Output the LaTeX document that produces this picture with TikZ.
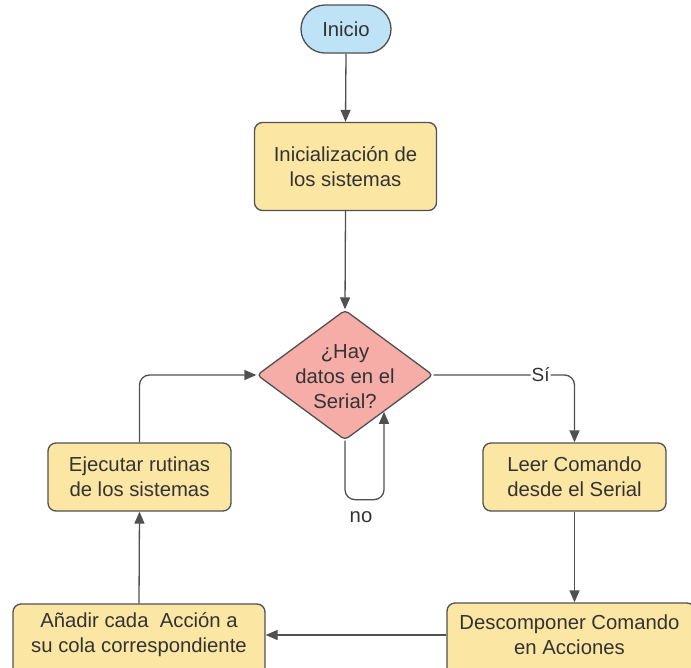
\documentclass[tikz,border=0pt]{standalone}
\usepackage{fontspec}
\setmainfont{Liberation Sans}
\usetikzlibrary{arrows.meta,shapes.geometric,calc}
\definecolor{boxfill}{HTML}{FCE6A4}
\definecolor{decfill}{HTML}{F6ADA7}
\definecolor{startfill}{HTML}{BEE3F6}
\definecolor{edge}{HTML}{505050}
\definecolor{ink}{HTML}{333333}
\begin{document}
\begin{tikzpicture}[x=1pt,y=-1pt,
  font=\fontsize{20.3}{25}\selectfont,
  every node/.style={text=ink},
  procbox/.style={draw=edge, line width=1.3pt, fill=boxfill, rounded corners=8pt,
    align=center, inner sep=0pt},
  startbox/.style={draw=edge, line width=1.3pt, fill=startfill, rounded corners=24pt,
    minimum width=90pt, minimum height=48pt, inner sep=0pt},
  decbox/.style={draw=edge, line width=1.3pt, fill=decfill, diamond, rounded corners=4pt,
    minimum width=176pt, minimum height=130pt, inner sep=0pt},
  flow/.style={draw=edge, line width=1.3pt, -{Triangle[length=12pt,width=10pt]}},
  tag/.style={fill=white, inner sep=1pt, font=\fontsize{19}{22}\selectfont}]
  \useasboundingbox (0,0) rectangle (691,667);
  \clip (0,0) rectangle (691,667);

  % nodes
  \node[startbox] (inicio) at (346,29) {Inicio};
  \node[procbox, minimum width=182pt, minimum height=88pt] (init) at (345.5,166.5)
    {Inicialización de\\los sistemas};
  \node[decbox] (dec) at (345,375) {};
  \node[align=center, inner sep=0pt] (dectext) at (345,377) {¿Hay\\datos en el\\Serial?};
  \node[procbox, minimum width=183pt, minimum height=68pt] (ejec) at (139.5,477)
    {Ejecutar rutinas\\de los sistemas};
  \node[procbox, minimum width=183pt, minimum height=68pt] (leer) at (574.5,477)
    {Leer Comando\\desde el Serial};
  % bottom boxes run past the lower edge; their text sits near the top
  \node[procbox, minimum width=252pt, minimum height=84pt] (anadir) at (139,646) {};
  \node[align=center, inner sep=0pt] (anadirtext) at (139,635)
    {Añadir cada\ \ Acción a\\su cola correspondiente};
  \node[procbox, minimum width=248pt, minimum height=84pt] (desc) at (571,645) {};
  \node[align=center, inner sep=0pt] (desctext) at (569.5,635)
    {Descomponer Comando\\en Acciones};

  % connectors
  \draw[flow] (inicio.south) -- (init.north);
  \draw[flow] (init.south) -- (dec.north);
  \draw[flow, rounded corners=10pt] (dec.east) -| node[tag, pos=0.38] {Sí} (leer.north);
  \draw[flow] (leer.south) -- (leer.south |- desc.north);
  \draw[flow] (desc.west |- desctext) -- (anadir.east |- desctext);
  \draw[flow] (anadir.north) -- (ejec.south);
  \draw[flow, rounded corners=10pt] (ejec.north) |- (dec.west);
  \coordinate (loopend) at ($(dec.south)!0.44!(dec.east)$);
  \draw[flow, rounded corners=10pt] (dec.south) -- ++(0,59) -| (loopend);
  \node (no) at (361,517) {no};
\end{tikzpicture}
\end{document}
